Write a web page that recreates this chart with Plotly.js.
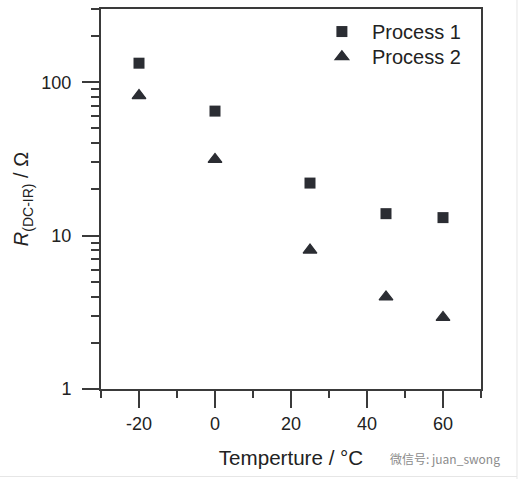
<!DOCTYPE html>
<html>
<head>
<meta charset="utf-8">
<script src="https://cdn.plot.ly/plotly-3.0.1.min.js"></script>
<style>
html,body{margin:0;padding:0;background:#fff;}
#chart{width:518px;height:479px;}
</style>
</head>
<body>
<div id="chart"></div>
<script>
// Data
const temperatures = [-20, 0, 25, 45, 60];
const process1 = [133, 64.8, 22.0, 13.9, 13.1];
const process2 = [81.8, 31.4, 8.05, 3.98, 2.93];
const seriesNames = ["Process 1", "Process 2"];
const xTickVals = [-20, 0, 20, 40, 60];
const xTickText = ["-20", "0", "20", "40", "60"];
const yTickVals = [1, 10, 100];
const yTickText = ["1", "10", "100"];

const ink = "#2b2d33";
const axisColor = "#3a3a3a";
const textColor = "#222";
const font = "Liberation Sans, Arial, sans-serif";

const traces = [
  {
    x: temperatures, y: process1, name: seriesNames[0],
    type: "scatter", mode: "markers", legend: "legend",
    marker: {symbol: "square", size: 11, color: ink, line: {width: 0}}
  },
  {
    x: temperatures, y: process2, name: seriesNames[1],
    type: "scatter", mode: "markers", legend: "legend2",
    marker: {symbol: "triangle-up", size: 12, color: ink, line: {width: 1.2, color: ink}}
  }
];

const legendBase = {
  xanchor: "left", yanchor: "top",
  bgcolor: "rgba(0,0,0,0)", borderwidth: 0,
  itemwidth: 50,
  font: {family: font, size: 20, color: textColor}
};

const layout = {
  width: 518, height: 479,
  margin: {l: 101, r: 37, t: 9, b: 90, pad: 0},
  paper_bgcolor: "#fff", plot_bgcolor: "#fff",
  font: {family: font, size: 18, color: textColor},
  showlegend: true,
  legend: Object.assign({}, legendBase, {x: 0.555, y: 0.992}),
  legend2: Object.assign({}, legendBase, {x: 0.555, y: 0.926}),
  xaxis: {
    range: [-30, 70],
    tickvals: xTickVals, ticktext: xTickText,
    ticks: "outside", ticklen: 17, tickwidth: 2, tickcolor: axisColor,
    minor: {dtick: 10, tick0: -30, ticks: "outside", ticklen: 7, tickwidth: 2, tickcolor: axisColor, showgrid: false},
    showline: true, linecolor: axisColor, linewidth: 2, mirror: true,
    showgrid: false, zeroline: false,
    tickfont: {family: font, size: 18, color: textColor},
    title: {text: "Temperture / °C", font: {family: font, size: 20.6, color: textColor}, standoff: 18}
  },
  yaxis: {
    type: "log",
    range: [0, Math.log10(300)],
    tickvals: yTickVals, ticktext: yTickText,
    ticks: "outside", ticklen: 17, tickwidth: 2, tickcolor: axisColor,
    ticklabelstandoff: 7,
    minor: {dtick: "D1", ticks: "outside", ticklen: 8, tickwidth: 2, tickcolor: axisColor, showgrid: false},
    showline: true, linecolor: axisColor, linewidth: 2, mirror: true,
    showgrid: false, zeroline: false,
    tickfont: {family: font, size: 18, color: textColor},
    title: {text: "<i>R</i><sub>(DC-IR)</sub> / Ω", font: {family: font, size: 20, color: textColor}, standoff: 7}
  },
  annotations: [
    {
      xref: "paper", yref: "paper", x: 1.055, y: -0.1816, xanchor: "right", yanchor: "middle",
      text: "微信号: juan_swong", showarrow: false,
      font: {family: "Noto Sans CJK SC, sans-serif", size: 12, color: "#8c8c8c"}
    }
  ],
  shapes: [
    {type: "line", xref: "paper", yref: "paper", x0: 1.0947, x1: 1.0947, y0: -0.2368, y1: 1.0237,
     line: {color: "#e6e6e6", width: 1}},
    {type: "line", xref: "paper", yref: "paper", x0: -0.2658, x1: 1.0947, y0: -0.2303, y1: -0.2303,
     line: {color: "#e6e6e6", width: 1}}
  ]
};

Plotly.newPlot("chart", traces, layout, {displayModeBar: false, staticPlot: true});
</script>
</body>
</html>
